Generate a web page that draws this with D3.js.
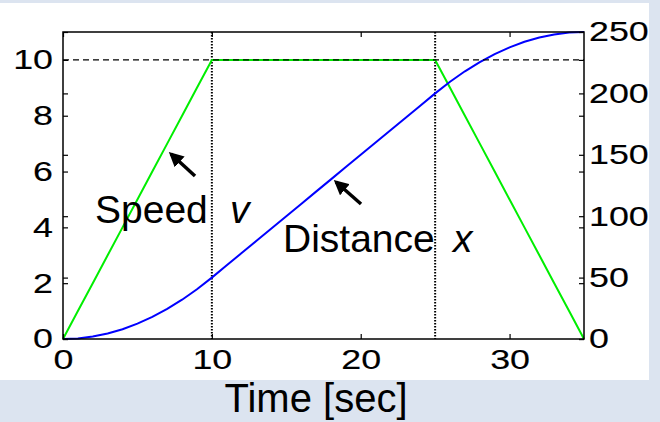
<!DOCTYPE html>
<html>
<head>
<meta charset="utf-8">
<script src="https://cdn.jsdelivr.net/npm/d3@7"></script>
<style>
  html, body { margin: 0; padding: 0; background: #dce4f0; }
  svg { display: block; }
  text { font-family: "Liberation Sans", Arial, sans-serif; fill: #000; }
</style>
</head>
<body>
<svg id="chart" width="660" height="422"></svg>
<script>
// ---- data ----
const time = [0,1,2,3,4,5,6,7,8,9,10,11,12,13,14,15,16,17,18,19,20,21,22,23,24,25,26,27,28,29,30,31,32,33,34,35];
const speed = [0,1,2,3,4,5,6,7,8,9,10,10,10,10,10,10,10,10,10,10,10,10,10,10,10,10,9,8,7,6,5,4,3,2,1,0];
const distance = [0,0.5,2,4.5,8,12.5,18,24.5,32,40.5,50,60,70,80,90,100,110,120,130,140,150,160,170,180,190,200,209.5,218,225.5,232,237.5,242,245.5,248,249.5,250];
const xTicks = [0,10,20,30];
const leftTicks = [0,2,4,6,8,10];
const rightTicks = [0,50,100,150,200,250];
const phaseTimes = [10,25];
const cruiseSpeed = 10;
const xLabel = "Time [sec]";

// ---- layout ----
const svg = d3.select("#chart");
const L = 63, R = 584, T = 32, B = 339;
const stretch = 1.28;

svg.append("rect").attr("x",0).attr("y",3).attr("width",649).attr("height",377).attr("fill","#ffffff");

const x = d3.scaleLinear().domain([0,35]).range([L,R]);
const yL = d3.scaleLinear().domain([0,11]).range([B,T]);
const yR = d3.scaleLinear().domain([0,250]).range([B,T]);

// reference lines
svg.append("g").selectAll("line").data(phaseTimes).join("line")
  .attr("x1", d => x(d)).attr("x2", d => x(d)).attr("y1", T).attr("y2", B)
  .attr("stroke","#000").attr("stroke-width",2).attr("stroke-dasharray","1.5,1.5");

// series
svg.append("path").datum(time.map((t,i)=>[t,speed[i]]))
  .attr("fill","none").attr("stroke","#00ee00").attr("stroke-width",2)
  .attr("d", d3.line().x(d=>x(d[0])).y(d=>yL(d[1])));
svg.append("path").datum(time.map((t,i)=>[t,distance[i]]))
  .attr("fill","none").attr("stroke","#0000ff").attr("stroke-width",2)
  .attr("d", d3.line().x(d=>x(d[0])).y(d=>yR(d[1])));

svg.append("line").attr("x1",L).attr("x2",R).attr("y1",yL(cruiseSpeed)).attr("y2",yL(cruiseSpeed))
  .attr("stroke","#000").attr("stroke-width",1.3).attr("stroke-dasharray","6,4");

// axes
function styleAxis(g){
  g.select(".domain").remove();
  g.selectAll(".tick line").attr("stroke","#000").attr("stroke-width",1.2);
  g.selectAll(".tick text").attr("font-size",28).attr("font-family","Liberation Sans, Arial, sans-serif")
    .attr("stroke","#000").attr("stroke-width",0.15);
}
const gl = svg.append("g").attr("transform",`translate(${L},0)`)
  .call(d3.axisLeft(yL).tickValues(leftTicks).tickSize(-5).tickSizeOuter(0).tickPadding(10));
styleAxis(gl);
gl.selectAll(".tick text").attr("x", -10/stretch).attr("transform",`scale(${stretch},1)`);
const gl2 = svg.append("g").attr("transform",`translate(${L},0)`)
  .call(d3.axisLeft(yR).tickValues(rightTicks).tickSize(-5).tickSizeOuter(0).tickFormat(""));
styleAxis(gl2);

const gr = svg.append("g").attr("transform",`translate(${R},0)`)
  .call(d3.axisRight(yR).tickValues(rightTicks).tickSize(-5).tickSizeOuter(0).tickPadding(5));
styleAxis(gr);
gr.selectAll(".tick text").attr("x", 5/stretch).attr("transform",`scale(${stretch},1)`);
const gr2 = svg.append("g").attr("transform",`translate(${R},0)`)
  .call(d3.axisRight(yL).tickValues(leftTicks).tickSize(-5).tickSizeOuter(0).tickFormat(""));
styleAxis(gr2);

const gb = svg.append("g").attr("transform",`translate(0,${B})`)
  .call(d3.axisBottom(x).tickValues(xTicks).tickSize(-5).tickSizeOuter(0).tickPadding(10));
styleAxis(gb);
gb.selectAll(".tick text").attr("transform",`scale(${stretch},1)`);
const gt = svg.append("g").attr("transform",`translate(0,${T})`)
  .call(d3.axisTop(x).tickValues(xTicks).tickSize(-5).tickSizeOuter(0).tickFormat(""));
styleAxis(gt);

// box
svg.append("rect").attr("x",L).attr("y",T).attr("width",R-L).attr("height",B-T)
  .attr("fill","none").attr("stroke","#000").attr("stroke-width",1.5);

// annotations
const defs = svg.append("defs");
defs.append("marker").attr("id","ah").attr("viewBox","0 0 10 10").attr("refX",8).attr("refY",5)
  .attr("markerWidth",4.2).attr("markerHeight",4.2).attr("orient","auto")
  .append("path").attr("d","M0,0 L10,5 L0,10 Z").attr("fill","#000");

function arrow(x1,y1,x2,y2){
  svg.append("line").attr("x1",x1).attr("y1",y1).attr("x2",x2).attr("y2",y2)
    .attr("stroke","#000").attr("stroke-width",3.5).attr("marker-end","url(#ah)");
}
arrow(195,176,171,154);
arrow(361,204,336,182);

const sp = svg.append("text").attr("x",95).attr("y",223).attr("font-size",39);
sp.append("tspan").text("Speed ");
sp.append("tspan").attr("x",230).attr("font-style","italic").text("v");

const ds = svg.append("text").attr("x",283).attr("y",252).attr("font-size",39);
ds.append("tspan").text("Distance ");
ds.append("tspan").attr("x",453).attr("font-style","italic").text("x");

svg.append("text").attr("x",316).attr("y",412).attr("text-anchor","middle").attr("font-size",40).text(xLabel);
</script>
</body>
</html>
